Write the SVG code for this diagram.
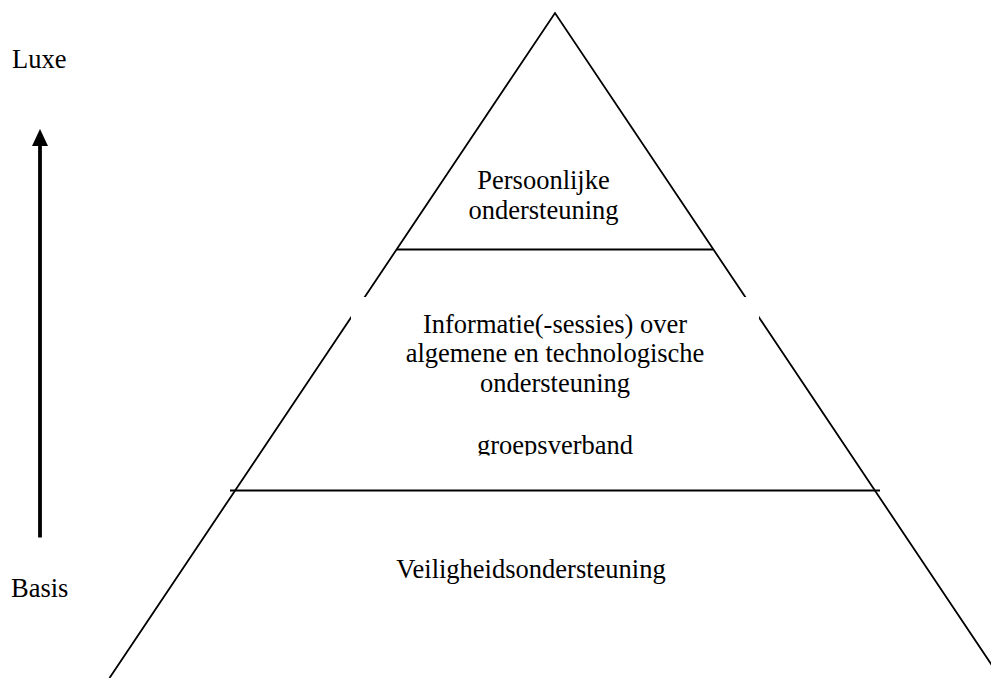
<svg xmlns="http://www.w3.org/2000/svg" width="991" height="678" viewBox="0 0 991 678">
  <style>
    .t { font-family: "Liberation Serif", "Times New Roman", serif; font-size: 26.5px; fill: #000; }
    .c { text-anchor: middle; }
    .ln { stroke: #000; stroke-width: 1.8; fill: none; }
  </style>
  <defs>
    <clipPath id="midClip">
      <rect x="351" y="297" width="408" height="158.5"/>
    </clipPath>
    <marker id="arrowHead" markerWidth="17" markerHeight="16" refX="0" refY="8" orient="auto" markerUnits="userSpaceOnUse" viewBox="0 0 17 16">
      <path d="M0,0 L17,8 L0,16 Z" fill="#000"/>
    </marker>
  </defs>
  <rect width="991" height="678" fill="#fff"/>

  <g id="pyramid">
    <polyline class="ln" points="109.5,678 555,13 1000.5,678"/>
  </g>

  <g id="layer-top">
    <line class="ln" x1="397" y1="249.5" x2="713" y2="249.5"/>
    <text class="t c" x="543.5" y="189">Persoonlijke</text>
    <text class="t c" x="543.5" y="219">ondersteuning</text>
  </g>

  <g id="layer-middle">
    <rect x="351" y="297" width="408" height="158.5" fill="#fff"/>
    <g clip-path="url(#midClip)">
      <text class="t c" x="555" y="332.5">Informatie(-sessies) over</text>
      <text class="t c" x="555" y="362">algemene en technologische</text>
      <text class="t c" x="555" y="392">ondersteuning</text>
      <text class="t c" x="555" y="454">groepsverband</text>
    </g>
  </g>

  <g id="layer-bottom">
    <line class="ln" x1="230" y1="490.5" x2="880" y2="490.5"/>
    <text class="t c" x="531" y="577.5">Veiligheidsondersteuning</text>
  </g>

  <g id="label-luxe">
    <text class="t" x="12" y="68">Luxe</text>
  </g>
  <g id="label-basis">
    <text class="t" x="11" y="597">Basis</text>
  </g>

  <g id="connectors">
    <line x1="40" y1="537.5" x2="40" y2="146" stroke="#000" stroke-width="3.8" marker-end="url(#arrowHead)"/>
  </g>
</svg>
